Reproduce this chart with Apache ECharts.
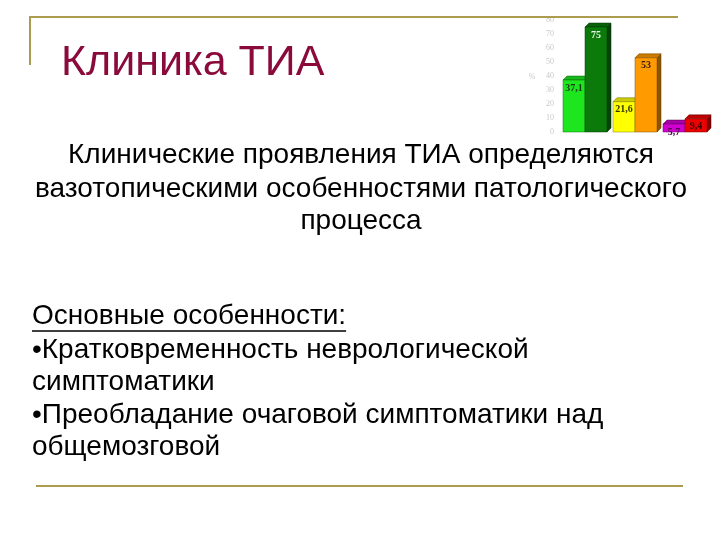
<!DOCTYPE html>
<html><head><meta charset="utf-8">
<script src="https://cdn.jsdelivr.net/npm/echarts@6/dist/echarts.min.js"></script>
<style>html,body{margin:0;padding:0;background:#fff}#c{width:720px;height:540px}</style>
</head><body><div id="c"></div>
<script>
const categories = ['A', 'B', 'C'];
const seriesFirst = [37.1, 21.6, 5.7];
const seriesSecond = [75, 53, 9.4];
const labelsFirst = ['37,1', '21,6', '5,7'];
const labelsSecond = ['75', '53', '9,4'];
const colorsFirst = ['#1ee61e', '#ffff00', '#d000d0'];
const colorsSecond = ['#0b7a0b', '#ff9a00', '#ee0000'];
const labelColorsFirst = ['#1a3a1a', '#333300', '#4a004a'];
const labelColorsSecond = ['#e8f5e8', '#3a2000', '#3a0000'];
const yTicks = [0, 10, 20, 30, 40, 50, 60, 70, 80];

const gold = '#ab9c4f';
const chart = echarts.init(document.getElementById('c'));

function shade(hex, f) {
  const n = parseInt(hex.slice(1), 16);
  let r = (n >> 16) & 255, g = (n >> 8) & 255, b = n & 255;
  r = Math.round(r * f); g = Math.round(g * f); b = Math.round(b * f);
  return 'rgb(' + r + ',' + g + ',' + b + ')';
}

function makeRender(which, colors, labels, labelColors) {
  return function (params, api) {
    const ci = api.value(0);
    const v = api.value(1);
    const base = api.coord([ci, 0]);
    const top = api.coord([ci, v]);
    const band = api.size([1, 0])[0];
    const bw = band * 0.44;
    const d = 4;
    const l = which === 0 ? base[0] - bw : base[0];
    const r = l + bw;
    const y0 = base[1], y1 = top[1];
    const c = colors[ci];
    return {
      type: 'group',
      children: [
        { type: 'polygon', shape: { points: [[r, y1], [r + d, y1 - d], [r + d, y0 - d], [r, y0]] },
          style: { fill: shade(c, 0.55), stroke: shade(c, 0.35), lineWidth: 0.5 } },
        { type: 'polygon', shape: { points: [[l, y1], [l + d, y1 - d], [r + d, y1 - d], [r, y1]] },
          style: { fill: shade(c, 0.8), stroke: shade(c, 0.4), lineWidth: 0.5 } },
        { type: 'rect', shape: { x: l, y: y1, width: bw, height: y0 - y1 },
          style: { fill: c, stroke: shade(c, 0.5), lineWidth: 0.5 } },
        { type: 'text', style: { x: l + bw / 2, y: y1 + 3, text: labels[ci], fill: labelColors[ci],
          font: 'bold 10px "Liberation Serif", "DejaVu Serif", serif', align: 'center', verticalAlign: 'top' } }
      ]
    };
  };
}

const font = '"Liberation Sans", Arial, sans-serif';
const bodySize = 28;
const underlineText = 'Основные особенности:';
const mctx = document.createElement('canvas').getContext('2d');
mctx.font = bodySize + 'px ' + font;
const ulWidth = mctx.measureText(underlineText).width;

function txt(x, y, s, align) {
  return { type: 'text', x: x, y: y, style: { text: s, font: bodySize + 'px ' + font, fill: '#000', align: align || 'left', verticalAlign: 'middle' } };
}

chart.setOption({
  animation: false,
  grid: { left: 560, right: 10, top: 20, bottom: 408 },
  xAxis: { type: 'category', data: categories, axisLine: { show: false }, axisTick: { show: false }, axisLabel: { show: false } },
  yAxis: { type: 'value', min: 0, max: 80, interval: 10,
    axisLine: { show: false }, axisTick: { show: false }, splitLine: { show: false },
    axisLabel: { color: '#c8c8c8', fontSize: 8, fontFamily: '"Liberation Serif", serif', margin: 6,
      formatter: function (v) { return yTicks.indexOf(v) >= 0 ? String(v) : ''; } } },
  series: [
    { type: 'custom', renderItem: makeRender(0, colorsFirst, labelsFirst, labelColorsFirst),
      data: seriesFirst.map((v, i) => [i, v]), encode: { x: 0, y: 1 } },
    { type: 'custom', renderItem: makeRender(1, colorsSecond, labelsSecond, labelColorsSecond),
      data: seriesSecond.map((v, i) => [i, v]), encode: { x: 0, y: 1 } }
  ],
  graphic: [
    { type: 'line', shape: { x1: 29, y1: 17, x2: 678, y2: 17 }, style: { stroke: gold, lineWidth: 2 }, z: 10 },
    { type: 'line', shape: { x1: 30, y1: 16, x2: 30, y2: 65 }, style: { stroke: gold, lineWidth: 2 } },
    { type: 'line', shape: { x1: 36, y1: 486, x2: 683, y2: 486 }, style: { stroke: gold, lineWidth: 2 } },
    { type: 'text', x: 532, y: 77, style: { text: '%', font: '8px "Liberation Serif", serif', fill: '#c8c8c8', align: 'center', verticalAlign: 'middle' } },
    { type: 'text', x: 61, y: 63, style: { text: 'Клиника ТИА', font: '43px ' + font, fill: '#8a0a3c', verticalAlign: 'middle' } },
    txt(361, 155, 'Клинические проявления ТИА определяются', 'center'),
    txt(361, 189, 'вазотопическими особенностями патологического', 'center'),
    txt(361, 221, 'процесса', 'center'),
    txt(32, 316, underlineText),
    { type: 'line', shape: { x1: 32, y1: 331, x2: 32 + ulWidth, y2: 331 }, style: { stroke: '#000', lineWidth: 1.5 } },
    txt(32, 350, '•Кратковременность неврологической'),
    txt(32, 382, 'симптоматики'),
    txt(32, 415, '•Преобладание очаговой симптоматики над'),
    txt(32, 447, 'общемозговой')
  ]
});
</script></body></html>
